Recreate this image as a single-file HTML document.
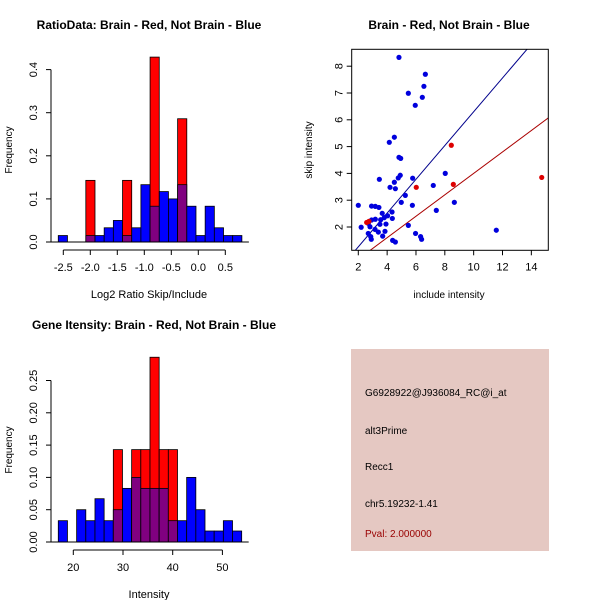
<!DOCTYPE html>
<html><head><meta charset="utf-8"><style>
body{margin:0;background:#fff}
svg{display:block;font-family:"Liberation Sans",sans-serif}
</style></head><body>
<svg id="c" width="600" height="600" xmlns="http://www.w3.org/2000/svg">
<text x="149" y="29" font-size="12" font-weight="bold" text-anchor="middle">RatioData: Brain - Red, Not Brain - Blue</text>
<text x="449" y="29" font-size="12" font-weight="bold" text-anchor="middle">Brain - Red, Not Brain - Blue</text>
<text x="154" y="329" font-size="12" font-weight="bold" text-anchor="middle">Gene Itensity: Brain - Red, Not Brain - Blue</text>
<rect x="351" y="349" width="198" height="202" fill="#e5c8c2"/>
<g font-size="10">
<text x="365" y="396">G6928922@J936084_RC@i_at</text>
<text x="365" y="434">alt3Prime</text>
<text x="365" y="470">Recc1</text>
<text x="365" y="507">chr5.19232-1.41</text>
<text x="365" y="537" fill="#990000">Pval: 2.000000</text>
</g>
</svg>
<script>
// Ratio histogram data
const ratioStart = -2.593;
const ratioBinWidth = 0.17;
const ratioBlue = [0.015,0,0,0.015,0.015,0.033,0.05,0.015,0.033,0.133,0.083,0.117,0.1,0.133,0.083,0.015,0.083,0.033,0.015,0.015];
const ratioRed  = [0,0,0,0.143,0,0,0,0.143,0,0,0.429,0,0,0.286,0,0,0,0,0,0];
const ratioXTicks = [-2.5,-2.0,-1.5,-1.0,-0.5,0.0,0.5];
const ratioYTicks = [0.0,0.1,0.2,0.3,0.4];
// Intensity histogram data
const intStart = 16.98;
const intBinWidth = 1.845;
const intBlue = [0.033,0,0.05,0.033,0.067,0.033,0.05,0.083,0.1,0.083,0.083,0.083,0.033,0.033,0.1,0.05,0.017,0.017,0.033,0.017];
const intRed  = [0,0,0,0,0,0,0.143,0,0.143,0.143,0.286,0.143,0.143,0,0,0,0,0,0,0];
const intXTicks = [20,30,40,50];
const intYTicks = [0.00,0.05,0.10,0.15,0.20,0.25];
// Scatter data
const blueX = [4.82,6.65,6.55,5.47,6.44,5.95,4.15,4.5,4.82,4.94,8.03,4.91,4.77,5.77,3.46,4.5,4.2,4.57,7.2,5.26,4.98,8.66,5.75,2.0,7.41,2.92,3.18,3.43,3.66,4.34,4.03,3.8,4.36,2.2,3.55,2.92,3.18,2.69,2.81,3.5,3.92,3.16,3.39,2.69,3.85,3.69,2.9,2.86,5.47,5.97,6.32,6.39,4.38,4.57,11.57];
const blueY = [8.33,7.70,7.25,6.99,6.84,6.54,5.16,5.35,4.60,4.56,4.0,3.93,3.83,3.82,3.78,3.67,3.48,3.43,3.55,3.18,2.92,2.92,2.81,2.81,2.62,2.78,2.77,2.73,2.51,2.56,2.42,2.35,2.32,1.99,2.27,2.26,2.29,2.14,2.01,2.1,2.11,1.91,1.81,1.76,1.84,1.66,1.54,1.64,2.06,1.76,1.64,1.54,1.50,1.44,1.88];
const redX = [6.02,8.45,8.59,14.72,2.58,2.74];
const redY = [3.48,5.05,3.59,3.85,2.17,2.21];
const blueSlope = 0.63, redSlope = 0.40;
const scXTicks = [2,4,6,8,10,12,14];
const scYTicks = [2,3,4,5,6,7,8];

const svg = document.getElementById('c');
const NS = 'http://www.w3.org/2000/svg';
function mk(tag, attrs, parent){const e=document.createElementNS(NS,tag);for(const k in attrs)e.setAttribute(k,attrs[k]);(parent||svg).appendChild(e);return e;}
function txt(x,y,s,attrs){const e=mk('text',Object.assign({x:x,y:y,'font-size':11},attrs||{}));e.textContent=s;return e;}

function hist(o){
  const g = mk('g',{});
  
  
  const X=v=>o.x0+(v-o.vx0)*o.sx, Y=v=>o.y0-v*o.sy;
  for(let i=0;i<o.blue.length;i++){
    const a=X(o.start+i*o.w), b=X(o.start+(i+1)*o.w);
    const bl=o.blue[i], rd=o.red[i], top=Math.max(bl,rd), ov=Math.min(bl,rd);
    if(top<=0) continue;
    const col = rd>bl ? '#ff0000' : '#0000ff';
    const r=mk('rect',{x:a,y:Y(top),width:b-a,height:Y(0)-Y(top),fill:col,stroke:'#000','stroke-width':0.8},g);
    
    
    if(ov>0){
      const p=mk('rect',{x:a,y:Y(ov),width:b-a,height:Y(0)-Y(ov),fill:'#800080',stroke:'#000','stroke-width':0.8},g);
      
      
    }
  }
  mk('line',{x1:X(o.start)-10,x2:X(o.start+o.blue.length*o.w)+7,y1:Y(0),y2:Y(0),stroke:'#000'},g);
  const xa=mk('g',{},g);
  
  
  const ay=o.y0+8;
  mk('line',{x1:X(o.xt[0]),x2:X(o.xt[o.xt.length-1]),y1:ay,y2:ay,stroke:'#000'},xa);
  o.xt.forEach(t=>{mk('line',{x1:X(t),x2:X(t),y1:ay,y2:ay+5,stroke:'#000'},xa);txt(X(t),ay+21,o.xfmt(t),{'text-anchor':'middle'});});
  const ya=mk('g',{},g);
  
  
  const ax=o.x0v;
  mk('line',{x1:ax,x2:ax,y1:Y(o.yt[0]),y2:Y(o.yt[o.yt.length-1]),stroke:'#000'},ya);
  o.yt.forEach(t=>{mk('line',{x1:ax-5,x2:ax,y1:Y(t),y2:Y(t),stroke:'#000'},ya);const e=txt(ax-14,Y(t),o.yfmt(t),{'text-anchor':'middle',transform:`rotate(-90 ${ax-14} ${Y(t)})`});});
  const xl=txt(o.xlx,o.xly,o.xlab,{'text-anchor':'middle'});
  
  
  const yl=txt(12,o.yly,'Frequency',{'text-anchor':'middle','font-size':10,transform:`rotate(-90 12 ${o.yly})`});
  
  
}
hist({name:'ratio-histogram',blue:ratioBlue,red:ratioRed,start:ratioStart,w:ratioBinWidth,x0:63.3,vx0:-2.5,sx:54,y0:242,sy:431,xt:ratioXTicks,yt:ratioYTicks,
  xfmt:t=>t.toFixed(1),yfmt:t=>t.toFixed(1),x0v:51,xlab:'Log2 Ratio Skip/Include',xlx:149,xly:298,yly:150});
hist({name:'intensity-histogram',blue:intBlue,red:intRed,start:intStart,w:intBinWidth,x0:73.3,vx0:20,sx:4.97,y0:542,sy:646,xt:intXTicks,yt:intYTicks,
  xfmt:t=>String(t),yfmt:t=>t.toFixed(2),x0v:51,xlab:'Intensity',xlx:149,xly:598,yly:450});

(function(){
  const g=mk('g',{});
  
  
  const X=v=>358.3+(v-2)*14.42, Y=v=>227-(v-2)*26.8;
  const L=351.7,R=548.3,T=49.3,B=250.3;
  const defs=mk('defs',{},g);
  const cp=mk('clipPath',{id:'clip'},defs);
  mk('rect',{x:L,y:T,width:R-L,height:B-T},cp);
  const lg=mk('g',{'clip-path':'url(#clip)'},g);
  const bl=mk('line',{x1:X(0),y1:Y(0),x2:X(16),y2:Y(16*blueSlope),stroke:'#00008b'},lg);
  
  
  const rl=mk('line',{x1:X(0),y1:Y(0),x2:X(16),y2:Y(16*redSlope),stroke:'#aa0000'},lg);
  
  
  blueX.forEach((v,i)=>{const c=mk('circle',{cx:X(v),cy:Y(blueY[i]),r:2.6,fill:'#0000dd'},g);});
  redX.forEach((v,i)=>{const c=mk('circle',{cx:X(v),cy:Y(redY[i]),r:2.6,fill:'#dd0000'},g);});
  mk('rect',{x:L,y:T,width:R-L,height:B-T,fill:'none',stroke:'#000'},g);
  scXTicks.forEach(t=>{mk('line',{x1:X(t),x2:X(t),y1:B,y2:B+5,stroke:'#000'},g);txt(X(t),B+20,String(t),{'text-anchor':'middle'});});
  scYTicks.forEach(t=>{mk('line',{x1:L-5,x2:L,y1:Y(t),y2:Y(t),stroke:'#000'},g);txt(L-9,Y(t),String(t),{'text-anchor':'middle',transform:`rotate(-90 ${L-9} ${Y(t)})`});});
  const xl=txt(449,298,'include intensity',{'text-anchor':'middle','font-size':10});
  
  
  const yl=txt(312,150,'skip intensity',{'text-anchor':'middle','font-size':10,transform:'rotate(-90 312 150)'});
  
  
})();
</script>
</body></html>
